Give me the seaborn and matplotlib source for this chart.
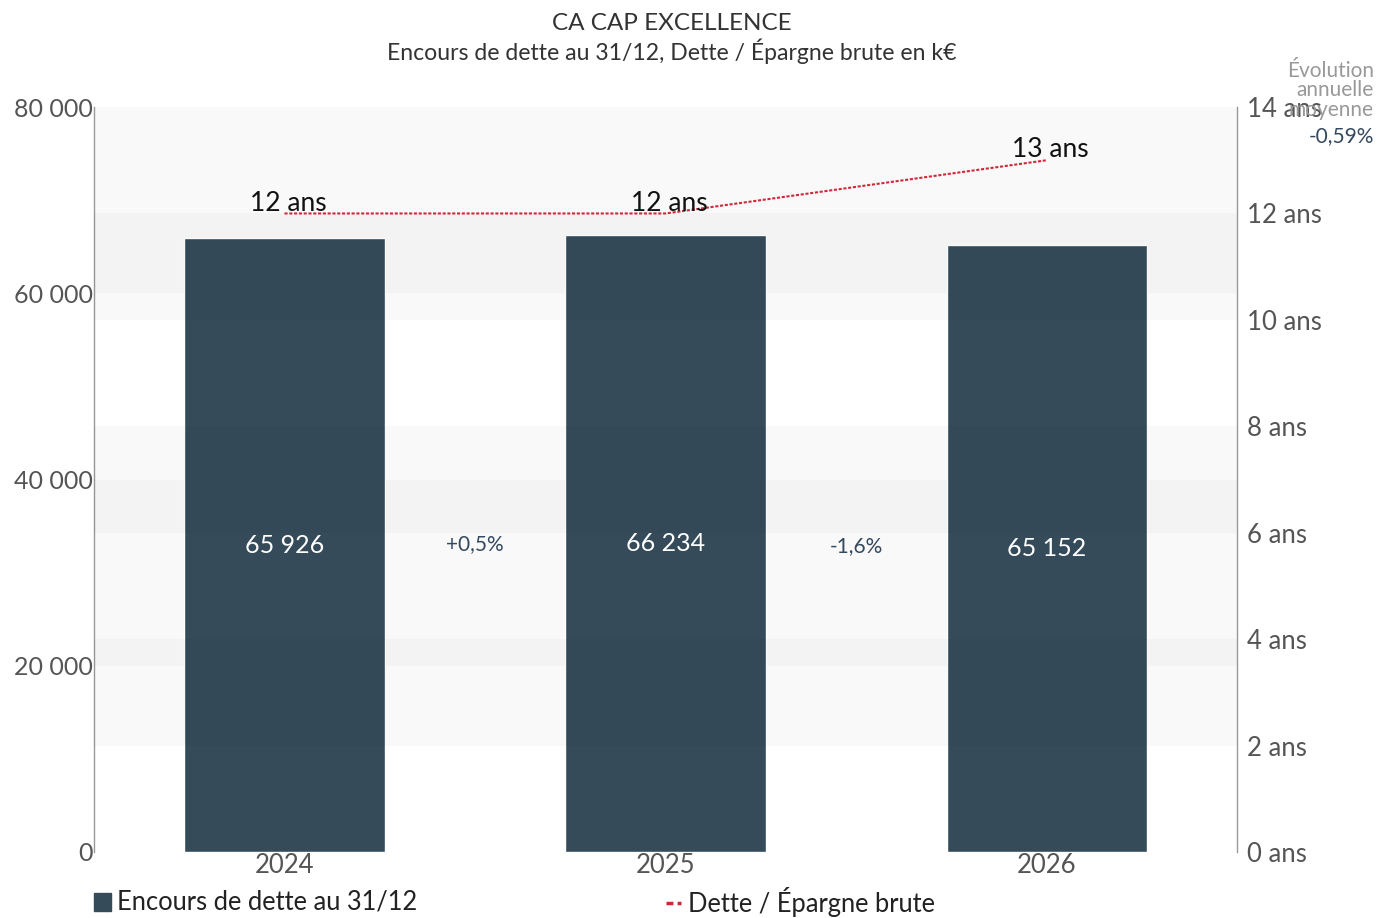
import pandas as pd
import seaborn as sns
import matplotlib.pyplot as plt

# Data
years = ['2024', '2025', '2026']
encours = [65926, 66234, 65152]
ratio_ans = [12.0, 12.0, 13.0]
ratio_labels = ['12 ans', '12 ans', '13 ans']
growth_labels = ['+0,5%', '-1,6%']
avg_growth = '-0,59%'

df = pd.DataFrame({'annee': years, 'encours': encours, 'ratio': ratio_ans})

sns.set_style('white')
plt.rcParams['font.family'] = ['Lato', 'DejaVu Sans']

BAR = '#354b5a'
RED = '#d0283a'
TXT = '#555555'

fig = plt.figure(figsize=(13.78, 9.18), dpi=100)
ax = fig.add_axes([0.0682, 0.0719, 0.8295, 0.8115])

# background bands (left axis every other 20 000, right axis every other 2 ans)
for lo in [20000, 60000]:
    ax.axhspan(lo, lo + 20000, color='black', alpha=0.025, lw=0, zorder=0)

sns.barplot(data=df, x='annee', y='encours', color=BAR, width=0.525,
            saturation=1, ax=ax, zorder=2)
ax.set_xlim(-0.5, 2.5)
ax.set_ylim(0, 80000)
ax.set_yticks([0, 20000, 40000, 60000, 80000])
ax.set_yticklabels([f'{v:,}'.replace(',', ' ') for v in [0, 20000, 40000, 60000, 80000]])
ax.set_xlabel('')
ax.set_ylabel('')
ax.tick_params(axis='y', labelsize=18, colors=TXT, length=0, pad=1)
ax.tick_params(axis='x', labelsize=18.5, colors=TXT, length=0, pad=1)
for s in ['top', 'bottom', 'right']:
    ax.spines[s].set_visible(False)
ax.spines['left'].set_color('#999999')
ax.spines['left'].set_linewidth(1)

for i, v in enumerate(encours):
    ax.text(i, v / 2, f'{v:,}'.replace(',', ' '), color='white', fontsize=18,
            ha='center', va='center', zorder=3)
for i, g in enumerate(growth_labels):
    mid = (encours[i] + encours[i + 1]) / 4
    ax.text(i + 0.5, mid, g, color='#34495e', fontsize=15,
            ha='center', va='center', zorder=3)

ax2 = ax.twinx()
ax2.set_ylim(0, 14)
for lo in [2, 6, 10]:
    ax2.axhspan(lo, lo + 2, color='black', alpha=0.025, lw=0, zorder=0)
sns.lineplot(data=df, x='annee', y='ratio', ax=ax2, color=RED, lw=1.5,
             linestyle=(0, (1.5, 0.8)), zorder=4, sort=False)
ax2.set_xlim(-0.5, 2.5)
ax2.set_yticks(range(0, 15, 2))
ax2.set_yticklabels([f'{v} ans' for v in range(0, 15, 2)])
ax2.set_ylabel('')
ax2.set_xlabel('')
ax2.tick_params(axis='y', labelsize=18.5, colors=TXT, length=0, pad=7)
for s in ['top', 'bottom', 'left']:
    ax2.spines[s].set_visible(False)
ax2.spines['right'].set_color('#999999')
ax2.spines['right'].set_linewidth(1)

for i, (v, lab) in enumerate(zip(ratio_ans, ratio_labels)):
    ax2.text(i + 0.01, v - 0.04, lab, color='#111111', fontsize=19,
             ha='center', va='bottom', zorder=5)

# titles
fig.text(0.4877, 0.974, 'CA CAP EXCELLENCE', ha='center', va='center',
         fontsize=17.5, color='#333333')
fig.text(0.4877, 0.944, 'Encours de dette au 31/12, Dette / Épargne brute en k€',
         ha='center', va='center', fontsize=16.6, color='#333333')

# average growth
fig.text(0.997, 0.934, 'Évolution\nannuelle\nmoyenne', ha='right', va='top',
         fontsize=15, color='#999999', linespacing=0.97)
fig.text(0.997, 0.852, avg_growth, ha='right', va='center',
         fontsize=15, color='#34495e')

# legend
fig.patches.append(plt.Rectangle((94 / 1378, 1 - 911 / 918), 17 / 1378, 18 / 918,
                                 transform=fig.transFigure, color=BAR))
fig.text(117 / 1378, 1 - 902 / 918, 'Encours de dette au 31/12', ha='left',
         va='center', fontsize=18.4, color='#222222')
fig.lines.append(plt.Line2D([666 / 1378, 681 / 1378], [1 - 903 / 918, 1 - 903 / 918],
                            transform=fig.transFigure, color=RED, lw=2.5,
                            linestyle=(0, (2, 1.2))))
fig.text(688 / 1378, 1 - 902 / 918, 'Dette / Épargne brute', ha='left',
         va='center', fontsize=18.4, color='#222222')

plt.savefig('out.png', dpi=100)
